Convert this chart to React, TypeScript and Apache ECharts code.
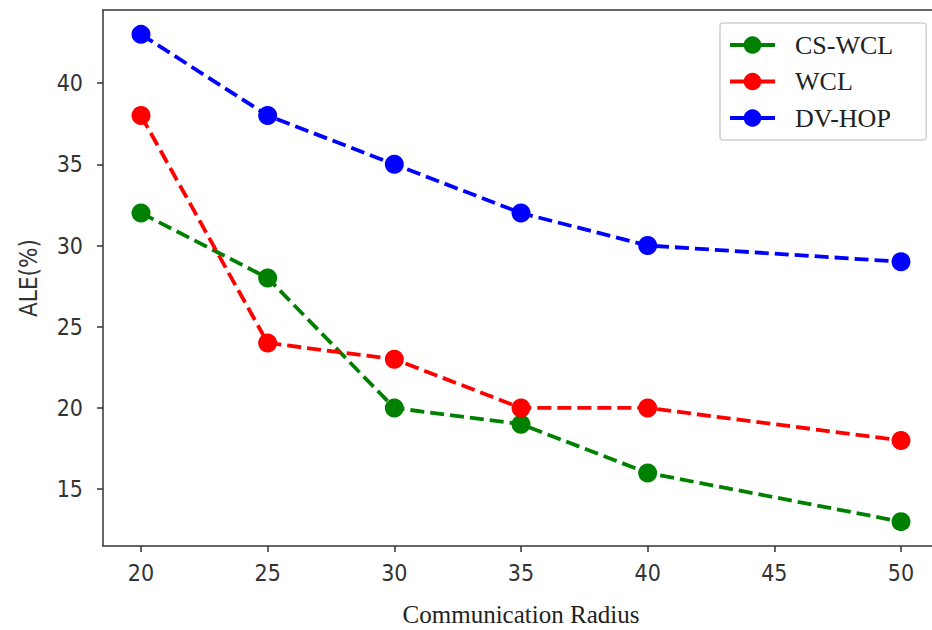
import React, { useEffect, useRef } from "react";
import * as echarts from "echarts";

const radius = [20, 25, 30, 35, 40, 50];
const csWcl = [32, 28, 20, 19, 16, 13];
const wcl = [38, 24, 23, 20, 20, 18];
const dvHop = [43, 38, 35, 32, 30, 29];
const xTicks = [20, 25, 30, 35, 40, 45, 50];
const yTicks = [15, 20, 25, 30, 35, 40];
const seriesNames = ["CS-WCL", "WCL", "DV-HOP"];
const seriesColors = ["#008000", "#ff0000", "#0000ff"];

export default function App() {
  const ref = useRef<HTMLDivElement>(null);
  useEffect(() => {
    document.body.style.margin = "0";
    const chart = echarts.init(ref.current!, null, { renderer: "svg" });
    const values = [csWcl, wcl, dvHop];
    const tickFont = { fontFamily: "DejaVu Sans Condensed", fontSize: 23, color: "#333" };
    const axisLine = { show: true, lineStyle: { color: "#333", width: 1.5 } };
    chart.setOption({
      animation: false,
      backgroundColor: "#fff",
      grid: {
        left: 103,
        top: 10,
        right: -7,
        bottom: 84,
        show: false,
        outerBoundsMode: "none",
        containLabel: false,
      },
      legend: {
        orient: "vertical",
        left: 720,
        top: 23,
        padding: [9, 33, 9, 8],
        itemWidth: 45,
        itemHeight: 22,
        itemGap: 10.5,
        backgroundColor: "#fff",
        borderColor: "#d0d0d0",
        borderWidth: 1.5,
        borderRadius: 3,
        lineStyle: { type: "solid", width: 4 },
        textStyle: {
          fontFamily: "Liberation Serif",
          fontSize: 26,
          color: "#222",
          padding: [0, 0, 0, 15],
        },
        data: seriesNames,
      },
      xAxis: [
        {
          type: "value",
          min: 18.5,
          max: 51.5,
          name: "Communication Radius",
          nameLocation: "middle",
          nameGap: 56,
          nameTextStyle: { fontFamily: "Liberation Serif", fontSize: 25, color: "#222" },
          axisLine,
          axisTick: { show: true, length: 6, customValues: xTicks, lineStyle: { color: "#333", width: 1.5 } },
          axisLabel: { customValues: xTicks, margin: 15, ...tickFont },
          splitLine: { show: false },
        },
        {
          type: "value",
          position: "top",
          min: 18.5,
          max: 51.5,
          axisLine,
          axisTick: { show: false },
          axisLabel: { show: false },
          splitLine: { show: false },
        },
      ],
      yAxis: {
        type: "value",
        min: 11.5,
        max: 44.5,
        name: "ALE(%)",
        nameLocation: "middle",
        nameGap: 62,
        nameRotate: 90,
        nameTextStyle: { fontFamily: "DejaVu Sans Condensed", fontSize: 24, color: "#333" },
        axisLine,
        axisTick: { show: true, length: 6, customValues: yTicks, lineStyle: { color: "#333", width: 1.5 } },
        axisLabel: { customValues: yTicks, margin: 20, ...tickFont },
        splitLine: { show: false },
      },
      series: seriesNames.map((name, i) => ({
        name,
        type: "line",
        xAxisIndex: 0,
        data: radius.map((r, j) => [r, values[i][j]]),
        symbol: "circle",
        symbolSize: 19,
        itemStyle: { color: seriesColors[i] },
        lineStyle: { color: seriesColors[i], width: 3.8, type: [14, 6] },
        z: 2 + i,
      })),
    });
    return () => chart.dispose();
  }, []);
  return <div ref={ref} style={{ width: 932, height: 630 }} />;
}
